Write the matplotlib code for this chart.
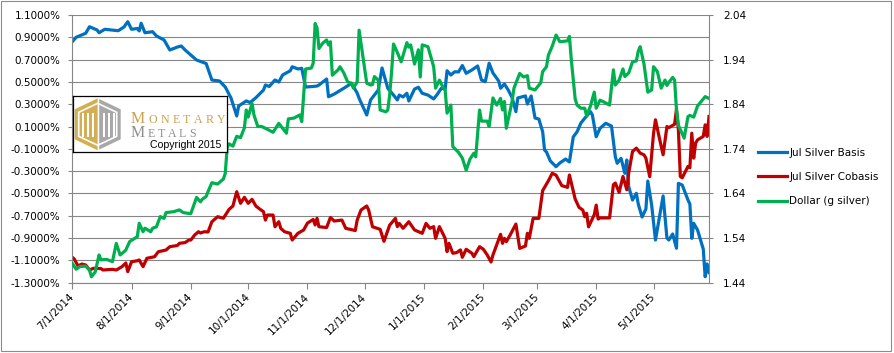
import matplotlib
matplotlib.use("Agg")
import matplotlib.pyplot as plt
import numpy as np
import pandas as pd
from matplotlib.patches import Polygon, Rectangle
from matplotlib.lines import Line2D
from matplotlib.ticker import FuncFormatter, FixedLocator

# ---------------- data ----------------
basis_dates = ["7/1/14","7/3/14","7/8/14","7/10/14","7/14/14","7/15/14","7/18/14","7/25/14","7/28/14","7/30/14",
"8/1/14","8/4/14","8/5/14","8/6/14","8/8/14","8/12/14","8/14/14","8/18/14","8/21/14","8/25/14","8/27/14","8/29/14",
"9/4/14","9/9/14","9/12/14","9/16/14","9/19/14","9/22/14","9/23/14","9/25/14","9/26/14","9/30/14",
"10/2/14","10/5/14","10/9/14","10/10/14","10/12/14","10/15/14","10/17/14","10/19/14","10/23/14","10/24/14","10/27/14","10/29/14","10/31/14",
"11/4/14","11/6/14","11/7/14","11/11/14","11/12/14","11/15/14","11/20/14","11/24/14","11/27/14","11/28/14",
"12/2/14","12/4/14","12/8/14","12/10/14","12/13/14","12/16/14","12/18/14","12/19/14","12/21/14","12/23/14","12/24/14","12/27/14","12/29/14","12/31/14",
"1/3/15","1/6/15","1/8/15","1/10/15","1/12/15","1/13/15","1/15/15","1/17/15","1/19/15","1/21/15","1/23/15","1/26/15","1/29/15","1/31/15",
"2/2/15","2/4/15","2/6/15","2/9/15","2/10/15","2/12/15","2/14/15","2/16/15","2/18/15","2/19/15","2/23/15","2/24/15","2/26/15","2/28/15",
"3/2/15","3/4/15","3/5/15","3/6/15","3/8/15","3/11/15","3/13/15","3/16/15","3/18/15","3/20/15","3/22/15","3/24/15","3/26/15","3/29/15","3/30/15",
"4/1/15","4/3/15","4/6/15","4/9/15","4/11/15","4/12/15","4/14/15","4/16/15","4/17/15","4/18/15","4/20/15","4/22/15","4/23/15","4/25/15","4/27/15","4/28/15","4/30/15",
"5/2/15","5/6/15","5/8/15","5/9/15","5/11/15","5/13/15","5/14/15","5/16/15","5/19/15","5/20/15","5/21/15","5/22/15","5/24/15","5/27/15","5/28/15","5/29/15","5/30/15"]
basis_vals = [0.861,0.900,0.936,0.995,0.965,0.941,0.972,0.959,0.992,1.040,
0.972,0.979,0.957,1.026,0.941,0.950,0.912,0.876,0.786,0.813,0.822,0.786,
0.696,0.665,0.517,0.508,0.454,0.356,0.302,0.194,0.284,0.329,
0.315,0.358,0.427,0.472,0.459,0.517,0.499,0.562,0.600,0.636,0.616,0.622,0.454,
0.459,0.463,0.472,0.526,0.367,0.391,0.443,0.487,0.400,0.353,
0.203,0.338,0.427,0.625,0.443,0.382,0.338,0.382,0.365,0.398,0.329,0.436,0.452,0.398,
0.382,0.347,0.391,0.443,0.436,0.600,0.562,0.591,0.589,0.647,0.577,0.607,0.643,0.517,
0.502,0.667,0.580,0.508,0.443,0.481,0.427,0.360,0.233,0.356,0.374,0.302,0.374,0.176,
0.167,0.053,-0.111,-0.129,-0.209,-0.260,-0.227,-0.192,-0.218,0.006,0.053,0.131,0.174,0.233,0.203,
0.008,0.084,0.129,0.104,-0.171,-0.230,-0.185,-0.320,-0.200,-0.440,-0.559,-0.499,-0.595,-0.712,-0.640,-0.389,-0.604,
-0.918,-0.523,-0.900,-0.918,-0.864,-0.992,-0.410,-0.425,-0.559,-0.595,-0.903,-0.768,-0.828,-0.999,-1.247,-1.133,-1.210]

cobasis_dates = ["7/1/14","7/2/14","7/4/14","7/6/14","7/8/14","7/10/14","7/12/14","7/16/14","7/17/14","7/22/14","7/24/14","7/27/14","7/29/14","7/30/14",
"8/1/14","8/4/14","8/5/14","8/7/14","8/9/14","8/11/14","8/13/14","8/15/14","8/19/14","8/21/14","8/25/14","8/26/14","8/29/14","8/31/14",
"9/1/14","9/3/14","9/5/14","9/6/14","9/8/14","9/10/14","9/12/14","9/15/14","9/18/14","9/21/14","9/23/14","9/25/14","9/27/14","9/29/14",
"10/1/14","10/3/14","10/5/14","10/7/14","10/9/14","10/10/14","10/11/14","10/14/14","10/15/14","10/17/14","10/18/14","10/20/14","10/23/14","10/24/14","10/27/14","10/30/14",
"11/1/14","11/4/14","11/5/14","11/6/14","11/7/14","11/11/14","11/13/14","11/15/14","11/19/14","11/21/14","11/26/14","11/27/14","11/29/14",
"12/2/14","12/3/14","12/5/14","12/9/14","12/11/14","12/14/14","12/17/14","12/18/14","12/19/14","12/21/14","12/24/14","12/27/14","12/31/14",
"1/2/15","1/4/15","1/6/15","1/7/15","1/9/15","1/12/15","1/13/15","1/14/15","1/16/15","1/18/15","1/20/15","1/21/15","1/23/15","1/26/15","1/27/15","1/30/15",
"2/1/15","2/3/15","2/5/15","2/6/15","2/10/15","2/11/15","2/12/15","2/13/15","2/15/15","2/18/15","2/20/15","2/23/15","2/24/15","2/25/15","2/27/15",
"3/2/15","3/4/15","3/7/15","3/9/15","3/11/15","3/14/15","3/17/15","3/18/15","3/21/15","3/23/15","3/25/15","3/26/15","3/27/15","3/28/15","3/31/15",
"4/1/15","4/2/15","4/3/15","4/8/15","4/10/15","4/11/15","4/13/15","4/15/15","4/17/15","4/18/15","4/20/15","4/22/15","4/24/15","4/26/15","4/27/15","4/29/15",
"5/1/15","5/2/15","5/4/15","5/6/15","5/8/15","5/9/15","5/12/15","5/13/15","5/14/15","5/15/15","5/16/15","5/19/15","5/20/15","5/21/15","5/22/15","5/23/15","5/24/15","5/27/15","5/28/15","5/29/15","5/30/15"]
cobasis_vals = [-1.073,-1.088,-1.151,-1.133,-1.142,-1.187,-1.172,-1.174,-1.187,-1.181,-1.187,-1.157,-1.124,-1.202,
-1.113,-1.104,-1.097,-1.157,-1.082,-1.075,-1.068,-1.023,-1.008,-0.978,-0.967,-0.948,-0.941,-0.918,
-0.918,-0.873,-0.844,-0.855,-0.844,-0.846,-0.754,-0.709,-0.723,-0.643,-0.613,-0.485,-0.589,-0.535,
-0.589,-0.553,-0.613,-0.640,-0.664,-0.739,-0.694,-0.694,-0.799,-0.754,-0.813,-0.844,-0.858,-0.918,-0.858,-0.828,
-0.766,-0.734,-0.783,-0.723,-0.799,-0.806,-0.716,-0.748,-0.739,-0.813,-0.833,-0.739,-0.649,
-0.613,-0.649,-0.799,-0.822,-0.930,-0.784,-0.724,-0.798,-0.769,-0.813,-0.754,-0.828,-0.858,
-0.769,-0.813,-0.798,-0.903,-0.798,-0.903,-1.022,-0.948,-1.037,-1.031,-1.007,-1.073,-1.001,-1.037,-1.067,-0.978,
-1.001,-1.052,-1.115,-1.052,-0.867,-0.948,-0.903,-0.933,-0.873,-0.775,-0.993,-0.972,-0.858,-0.903,-0.724,
-0.724,-0.475,-0.387,-0.320,-0.336,-0.430,-0.446,-0.335,-0.550,-0.625,-0.649,-0.709,-0.679,-0.800,-0.691,
-0.605,-0.730,-0.720,-0.720,-0.422,-0.407,-0.491,-0.348,-0.467,-0.318,-0.124,-0.094,-0.139,-0.154,-0.184,-0.350,
0.040,0.160,0.000,-0.154,0.100,0.090,0.120,0.255,0.070,-0.348,-0.360,-0.258,-0.270,0.040,-0.184,-0.049,-0.020,0.011,0.115,0.011,0.190]

dollar_dates = ["7/1/14","7/3/14","7/5/14","7/8/14","7/10/14","7/11/14","7/13/14","7/15/14","7/16/14","7/19/14","7/22/14","7/24/14","7/26/14","7/28/14","7/29/14","7/31/14",
"8/4/14","8/5/14","8/7/14","8/8/14","8/11/14","8/12/14","8/14/14","8/16/14","8/18/14","8/19/14","8/23/14","8/26/14","8/28/14","8/31/14",
"9/1/14","9/4/14","9/6/14","9/7/14","9/9/14","9/10/14","9/12/14","9/15/14","9/18/14","9/19/14","9/20/14","9/21/14","9/23/14","9/25/14","9/27/14","9/29/14","9/30/14",
"10/1/14","10/3/14","10/4/14","10/6/14","10/8/14","10/10/14","10/14/14","10/17/14","10/21/14","10/22/14","10/25/14","10/28/14","10/29/14","10/31/14",
"11/3/14","11/4/14","11/5/14","11/6/14","11/7/14","11/9/14","11/11/14","11/12/14","11/13/14","11/14/14","11/17/14","11/18/14","11/20/14","11/22/14","11/24/14","11/25/14","11/27/14","11/28/14","11/30/14",
"12/2/14","12/4/14","12/5/14","12/6/14","12/8/14","12/9/14","12/12/14","12/13/14","12/14/14","12/15/14","12/16/14","12/18/14","12/20/14","12/23/14","12/24/14","12/25/14","12/27/14","12/29/14","12/30/14","12/31/14",
"1/3/15","1/6/15","1/7/15","1/9/15","1/11/15","1/12/15","1/13/15","1/15/15","1/16/15","1/19/15","1/21/15","1/23/15","1/25/15","1/27/15","1/28/15","1/30/15","1/31/15",
"2/3/15","2/4/15","2/6/15","2/8/15","2/10/15","2/11/15","2/12/15","2/13/15","2/16/15","2/17/15","2/20/15","2/22/15","2/24/15","2/25/15","2/28/15",
"3/3/15","3/4/15","3/6/15","3/7/15","3/9/15","3/11/15","3/13/15","3/17/15","3/18/15","3/19/15","3/21/15","3/22/15","3/24/15","3/26/15","3/27/15","3/29/15","3/31/15",
"4/1/15","4/3/15","4/5/15","4/8/15","4/10/15","4/11/15","4/13/15","4/15/15","4/16/15","4/18/15","4/20/15","4/22/15","4/23/15","4/24/15","4/26/15","4/28/15","4/30/15",
"5/1/15","5/3/15","5/5/15","5/7/15","5/8/15","5/9/15","5/11/15","5/12/15","5/13/15","5/14/15","5/17/15","5/19/15","5/20/15","5/22/15","5/24/15","5/28/15","5/30/15"]
dollar_vals = [1.483,1.470,1.476,1.477,1.468,1.453,1.464,1.502,1.491,1.492,1.487,1.528,1.502,1.509,1.513,1.532,
1.543,1.573,1.554,1.562,1.554,1.562,1.565,1.588,1.584,1.597,1.599,1.603,1.597,1.595,
1.595,1.631,1.621,1.627,1.633,1.644,1.664,1.661,1.672,1.685,1.743,1.751,1.746,1.768,1.765,1.787,1.827,
1.811,1.842,1.816,1.790,1.790,1.786,1.777,1.797,1.775,1.807,1.809,1.816,1.801,1.919,
1.921,1.932,2.021,2.011,1.965,1.977,1.984,1.973,1.980,1.905,1.917,1.924,1.910,1.890,1.887,1.876,1.890,2.006,1.947,
1.887,1.883,1.884,1.902,1.894,1.827,1.823,1.827,1.861,1.913,1.975,1.956,1.935,1.978,1.968,1.973,1.930,1.962,1.901,1.973,
1.969,1.924,1.876,1.894,1.877,1.872,1.820,1.838,1.745,1.732,1.719,1.692,1.717,1.730,1.722,1.827,1.802,
1.802,1.790,1.854,1.838,1.853,1.827,1.846,1.786,1.846,1.876,1.909,1.901,1.904,1.876,1.872,
1.888,1.913,1.924,1.950,1.970,1.995,1.980,1.982,1.992,1.939,1.852,1.838,1.831,1.831,1.814,1.836,1.867,
1.831,1.849,1.845,1.838,1.917,1.883,1.894,1.919,1.902,1.910,1.935,1.937,1.959,1.969,1.930,1.867,1.872,
1.924,1.913,1.876,1.894,1.882,1.889,1.900,1.894,1.827,1.793,1.764,1.812,1.815,1.811,1.836,1.857,1.853]

series_names = ["Jul Silver Basis", "Jul Silver Cobasis", "Dollar (g silver)"]
left_ticks = [-1.3, -1.1, -0.9, -0.7, -0.5, -0.3, -0.1, 0.1, 0.3, 0.5, 0.7, 0.9, 1.1]
right_ticks = [1.44, 1.54, 1.64, 1.74, 1.84, 1.94, 2.04]
month_ticks = ["7/1/14","8/1/14","9/1/14","10/1/14","11/1/14","12/1/14","1/1/15","2/1/15","3/1/15","4/1/15","5/1/15"]

def parse(lst):
    return pd.to_datetime(lst, format="%m/%d/%y")

# ---------------- figure ----------------
W, H = 894, 353
fig = plt.figure(figsize=(W / 100, H / 100), dpi=100)
fig.patch.set_facecolor("white")

def fx(px):
    return px / W

def fy(py):
    return 1 - py / H

GRID = "#868686"
TXT = "#000000"
FS = 7.5

L, R, T, B = 72.3, 709.0, 15.0, 282.6
ax = fig.add_axes([fx(L), fy(B), (R - L) / W, (B - T) / H])
ax2 = ax.twinx()

c_blue, c_red, c_green = "#0070C0", "#C00000", "#00B050"
ax.plot(parse(basis_dates), basis_vals, color=c_blue, lw=2.3, solid_joinstyle="round")
ax.plot(parse(cobasis_dates), cobasis_vals, color=c_red, lw=2.3, solid_joinstyle="round")
ax2.plot(parse(dollar_dates), dollar_vals, color=c_green, lw=2.3, solid_joinstyle="round")

xmin, xmax = parse(["7/1/14"])[0], parse(["5/30/15"])[0]
ax.set_xlim(xmin, xmax)
ax.set_ylim(-1.3, 1.1)
ax2.set_ylim(1.44, 2.04)

ax.yaxis.set_major_locator(FixedLocator(left_ticks))
ax.yaxis.set_major_formatter(FuncFormatter(lambda v, p: f"{v:.4f}%"))
ax2.yaxis.set_major_locator(FixedLocator(right_ticks))
ax2.yaxis.set_major_formatter(FuncFormatter(lambda v, p: f"{v:.2f}"))

mt = parse(month_ticks)
ax.set_xticks(mt)
ax.set_xticklabels([f"{d.month}/{d.day}/{d.year}" for d in mt])
for lab in ax.get_xticklabels():
    lab.set_rotation(45)
    lab.set_ha("right")
    lab.set_va("center")
    lab.set_rotation_mode("anchor")

ax.yaxis.grid(True, color=GRID, lw=0.8)
ax.set_axisbelow(True)

for a in (ax, ax2):
    for s in a.spines.values():
        s.set_color(GRID)
        s.set_linewidth(0.8)
    a.spines["top"].set_visible(False)
ax.spines["right"].set_visible(False)
ax2.spines["left"].set_visible(False)
ax2.spines["bottom"].set_visible(False)

ax.tick_params(axis="y", direction="out", length=3, width=0.8, color=GRID, pad=5.5, labelsize=FS, labelcolor=TXT)
ax.tick_params(axis="x", direction="out", length=4, width=0.8, color=GRID, pad=5, labelsize=FS, labelcolor=TXT)
ax2.tick_params(axis="y", direction="out", length=3, width=0.8, color=GRID, pad=7, labelsize=FS, labelcolor=TXT)

# legend
handles = [Line2D([], [], color=c, lw=2.3) for c in (c_blue, c_red, c_green)]
fig.legend(handles, series_names, loc="upper left", bbox_to_anchor=(fx(758), fy(147.5)),
           frameon=False, fontsize=FS, handlelength=2.8, handletextpad=0.2,
           labelspacing=1.38, borderaxespad=0, borderpad=0)

# outer border
fig.add_artist(Rectangle((fx(1), fy(351)), 890 / W, 350 / H, transform=fig.transFigure,
                         fill=False, edgecolor="#8c8c8c", lw=0.8))

# ---------------- logo box ----------------
bx0, bx1, by0, by1 = 72.7, 227.3, 96.3, 152.3
lax = fig.add_axes([fx(bx0), fy(by1), (bx1 - bx0) / W, (by1 - by0) / H])
lax.set_zorder(10)
lax.set_xlim(0, bx1 - bx0)
lax.set_ylim(by1 - by0, 0)
lax.set_xticks([])
lax.set_yticks([])
lax.set_facecolor("white")
for s in lax.spines.values():
    s.set_color("black")
    s.set_linewidth(0.9)

gold, grey = "#D4AE52", "#A8A8A8"
cx = 25
hexL = [(cx, 2), (cx, 54), (2, 43), (2, 13)]
hexR = [(cx, 2), (48, 13), (48, 43), (cx, 54)]
lax.add_patch(Polygon(hexL, closed=True, fc=gold, ec="none"))
lax.add_patch(Polygon(hexR, closed=True, fc=grey, ec="none"))
inner = [(cx, 7), (44, 16), (44, 40), (cx, 49), (6, 40), (6, 16)]
lax.add_patch(Polygon(inner, closed=True, fc="none", ec="white", lw=1.2))
for x0 in (9, 14, 19, 30, 35, 40):
    lax.add_patch(Rectangle((x0, 17), 2.2, 24, fc="white", ec="none"))
lax.plot([cx, cx], [2, 54], color="white", lw=1.0)

renderer = fig.canvas.get_renderer()

def spaced(parts, x0, x1, base, color, family):
    ts, ws = [], []
    for ch, size in parts:
        t = lax.text(0, base, ch, fontsize=size, color=color, family=family, va="baseline", ha="left")
        ws.append(t.get_window_extent(renderer).width)
        ts.append(t)
    gap = (x1 - x0 - sum(ws)) / (len(parts) - 1)
    x = x0
    for t, w in zip(ts, ws):
        t.set_x(x)
        x += w + gap

serif = ["Liberation Serif", "DejaVu Serif"]
spaced([("M", 11.5)] + [(c, 8.6) for c in "ONETARY"], 58.3, 152.5, 26.4, "#C9A24C", serif)
spaced([("M", 11.5)] + [(c, 8.6) for c in "ETALS"], 58.3, 122.7, 41.0, "#8E8E8E", serif)
lax.text(77.5, 51.5, "Copyright 2015", fontsize=7.6, color="black", family=["Liberation Sans", "DejaVu Sans"],
         va="baseline", ha="left")

fig.savefig("out.png", dpi=100)
